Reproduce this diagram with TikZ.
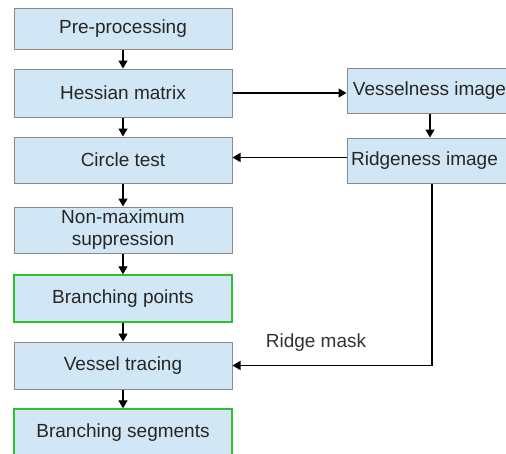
\documentclass[tikz,border=0pt]{standalone}
\usepackage{fontspec}
\setmainfont{Liberation Sans}
\usetikzlibrary{arrows.meta}
\definecolor{boxfill}{HTML}{D2E7F5}
\definecolor{boxline}{HTML}{8A8A8A}
\definecolor{greenline}{HTML}{2EC02E}
\tikzset{
  stepbox/.style={draw=boxline, line width=1pt, fill=boxfill, minimum width=218pt, inner sep=0pt, align=center, font=\fontsize{19}{22}\selectfont, text=black!85},
  rightbox/.style={stepbox, minimum width=185pt, minimum height=45pt},
  greenbox/.style={stepbox, draw=greenline, line width=1.4pt},
  conn/.style={line width=1.3pt, -{Triangle[length=8pt,width=9pt]}}
}
\begin{document}
\begin{tikzpicture}[x=1pt,y=-1pt]
\useasboundingbox (0,0) rectangle (506,453);
\clip (0,0) rectangle (506,453);
\node[stepbox, minimum height=41pt] (pre) at (123,28.5) {Pre-processing};
\node[stepbox, minimum height=48pt] (hess) at (123,93) {Hessian matrix};
\node[stepbox, minimum height=46pt] (circ) at (123,160) {Circle test};
\node[stepbox, minimum height=46pt] (nms) at (123,230) {Non-maximum\\suppression};
\node[greenbox, minimum height=47pt] (bp) at (123,298.5) {Branching points};
\node[stepbox, minimum height=47pt] (vt) at (123,365.5) {Vessel tracing};
\node[greenbox, minimum height=47pt] (bs) at (123,432.5) {Branching segments};
\node[rightbox] (ves) at (439.5,90.5) {Vesselness image\hspace*{20pt}};
\node[rightbox] (rid) at (439.5,160.5) {Ridgeness image\hspace*{30pt}};
\coordinate (vx) at (430,0);
\coordinate (rx) at (432,0);
\node[font=\fontsize{19}{22}\selectfont, text=black!80] (lbl) at (316,343) {Ridge mask};
\draw[conn] (pre) -- (hess);
\draw[conn] (hess) -- (circ);
\draw[conn] (circ) -- (nms);
\draw[conn] (nms) -- (bp);
\draw[conn] (bp) -- (vt);
\draw[conn] (vt) -- (bs);
\draw[conn] (hess.east) -- (hess.east -| ves.west);
\draw[conn] (ves.south -| vx) -- (rid.north -| vx);
\draw[conn] ([yshift=3pt]rid.west) -- ([yshift=3pt]rid.west -| circ.east);
\draw[conn] (rid.south -| rx) |- (vt.east);
\end{tikzpicture}
\end{document}
